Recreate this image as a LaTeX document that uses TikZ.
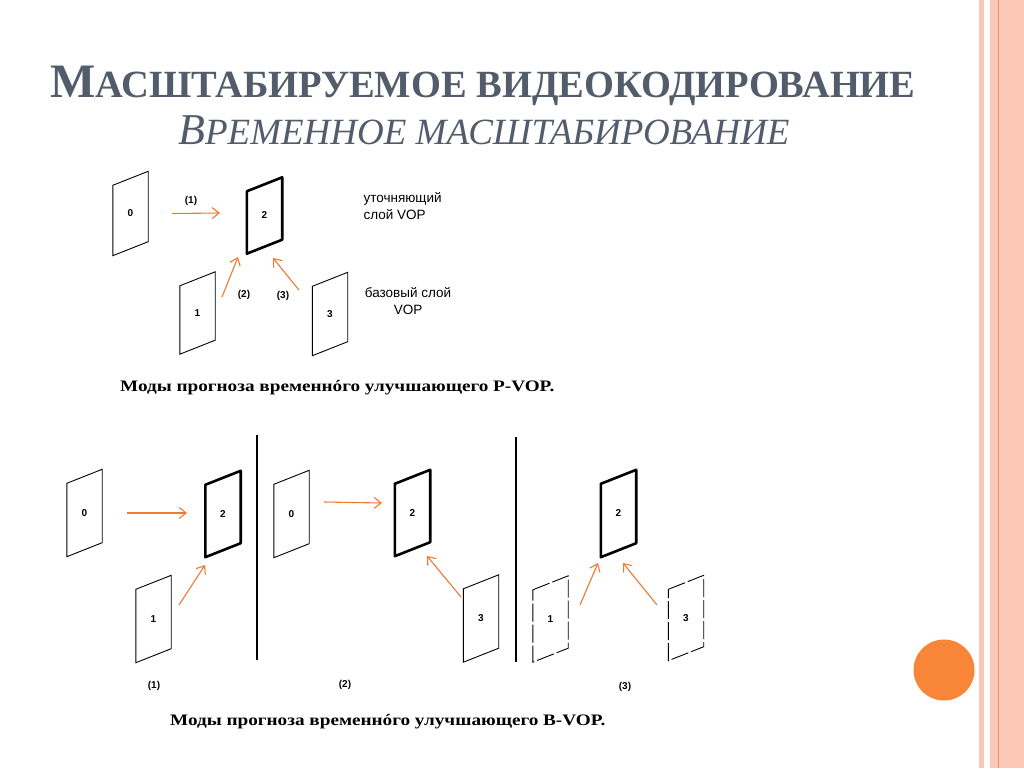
\documentclass[tikz,border=0pt]{standalone}
\usepackage{fontspec}
\setmainfont{Liberation Serif}
\newfontfamily\labelfont{Liberation Sans}
\newfontfamily\capfont[FakeStretch=1.2]{Liberation Serif}
\usetikzlibrary{arrows.meta,calc}

\definecolor{titlegray}{RGB}{82,92,107}
\definecolor{vecorange}{RGB}{240,122,48}
\definecolor{dotorange}{RGB}{249,134,56}
\definecolor{stripe}{RGB}{251,200,182}
\definecolor{stripeline}{RGB}{226,150,116}

\tikzset{
  vop/.style={minimum width=35pt, inner sep=0pt, font=\labelfont\bfseries\fontsize{10}{10}\selectfont},
  thinvop/.style={line width=0.9pt},
  boldvop/.style={line width=2.6pt, line join=round},
  brokenvop/.style={line width=0.9pt, dash pattern=on 18pt off 3pt},
  vec/.style={draw=vecorange, line width=1.1pt, -{Straight Barb[length=7pt,width=11pt]}},
  modetext/.style={font=\labelfont\bfseries\fontsize{10}{10}\selectfont},
  layertext/.style={font=\labelfont\fontsize{13.5}{17}\selectfont},
  captiontext/.style={font=\capfont\bfseries\fontsize{16}{16}\selectfont, anchor=west, inner sep=0pt},
}

\begin{document}
\begin{tikzpicture}[x=1pt, y=-1pt]
  \useasboundingbox (0,0) rectangle (1024,768);
  \fill[white] (0,0) rectangle (1024,768);
  % slide border
  \fill[stripe] (979,0) rectangle (983.5,768);
  \fill[stripe] (990,0) rectangle (1024,768);
  \draw[stripeline, line width=1pt] (998.5,0) -- (998.5,768);
  \fill[dotorange] (944,670) circle (30.5pt);

  % titles
  \node[anchor=base west, inner sep=0pt, text=titlegray] (title) at (50,97)
    {\bfseries\fontsize{48}{48}\selectfont М\fontsize{38.5}{38.5}\selectfont АСШТАБИРУЕМОЕ ВИДЕОКОДИРОВАНИЕ};
  \node[anchor=base west, inner sep=0pt, text=titlegray] (subtitle) at (178,144)
    {\itshape\fontsize{44}{44}\selectfont В\fontsize{37}{37}\selectfont РЕМЕННОЕ МАСШТАБИРОВАНИЕ};

  % frames: name/x/y/label/height/style
  \foreach \n/\x/\y/\t/\h/\s in {
      t0/130.5/213.5/0/70/thinvop, t2/264.5/215.5/2/62/boldvop,
      t1/197.5/313/1/68/thinvop, t3/330/314/3/69/thinvop,
      b0/84.5/513/0/73/thinvop, b2/223/514/2/72/boldvop, b1/153.5/619/1/73/thinvop,
      c0/291.5/514/0/73/thinvop, c2/412.5/513/2/72/boldvop, c3/481/618.5/3/73/thinvop,
      d2/618.5/513.5/2/73/boldvop, d1/550.5/619/1/72/brokenvop, d3/686/618/3/71/brokenvop}{
    \node[vop, minimum height=\h pt] (\n) at (\x,\y) {\t};
    \draw[\s] ([yshift=-7pt]\n.north west) -- ([yshift=7pt]\n.north east)
      -- ([yshift=7pt]\n.south east) -- ([yshift=-7pt]\n.south west) -- cycle;
  }

  % prediction arrows
  \draw[vec] ([shift={(41.5,0)}]t0.center) -- ([shift={(-44.5,-2.5)}]t2.center);
  \draw[vec] ([shift={(24.5,-16)}]t1.center) -- ([shift={(-26.5,41.5)}]t2.center);
  \draw[vec] ([shift={(-31,-24)}]t3.center) -- ([shift={(8.5,42.5)}]t2.center);
  \draw[vec] ([shift={(42.5,0)}]b0.center) -- ([shift={(-36,-1)}]b2.center);
  \draw[vec] ([shift={(25.5,-14)}]b1.center) -- ([shift={(-18,51)}]b2.center);
  \draw[vec] ([shift={(32.5,-12)}]c0.center) -- ([shift={(-30.5,-10)}]c2.center);
  \draw[vec] ([shift={(-20,-21.5)}]c3.center) -- ([shift={(14.5,43)}]c2.center);
  \draw[vec] ([shift={(29.5,-14)}]d1.center) -- ([shift={(-20.5,49.5)}]d2.center);
  \draw[vec] ([shift={(-29,-13)}]d3.center) -- ([shift={(4.5,49.5)}]d2.center);

  % mode labels
  \node[modetext] (m1) at (191,201) {(1)};
  \node[modetext] (m2) at (244,295) {(2)};
  \node[modetext] (m3) at (283,296) {(3)};
  \node[modetext] (n1) at (154,686) {(1)};
  \node[modetext] (n2) at (345,685) {(2)};
  \node[modetext] (n3) at (625,687) {(3)};

  % layers
  \node[layertext, align=left, anchor=west] (enh) at (360,206) {уточняющий\\слой VOP};
  \node[layertext, align=center] (base) at (408,301) {базовый слой\\VOP};

  % separators
  \draw[line width=1.3pt] (257,435) -- (257,660);
  \draw[line width=1.3pt] (516,437) -- (516,662);

  % captions
  \node[captiontext] (cap1) at (120,388) {Моды прогноза временнóго улучшающего P-VOP.};
  \node[captiontext] (cap2) at (170,722) {Моды прогноза временнóго улучшающего B-VOP.};
\end{tikzpicture}
\end{document}
